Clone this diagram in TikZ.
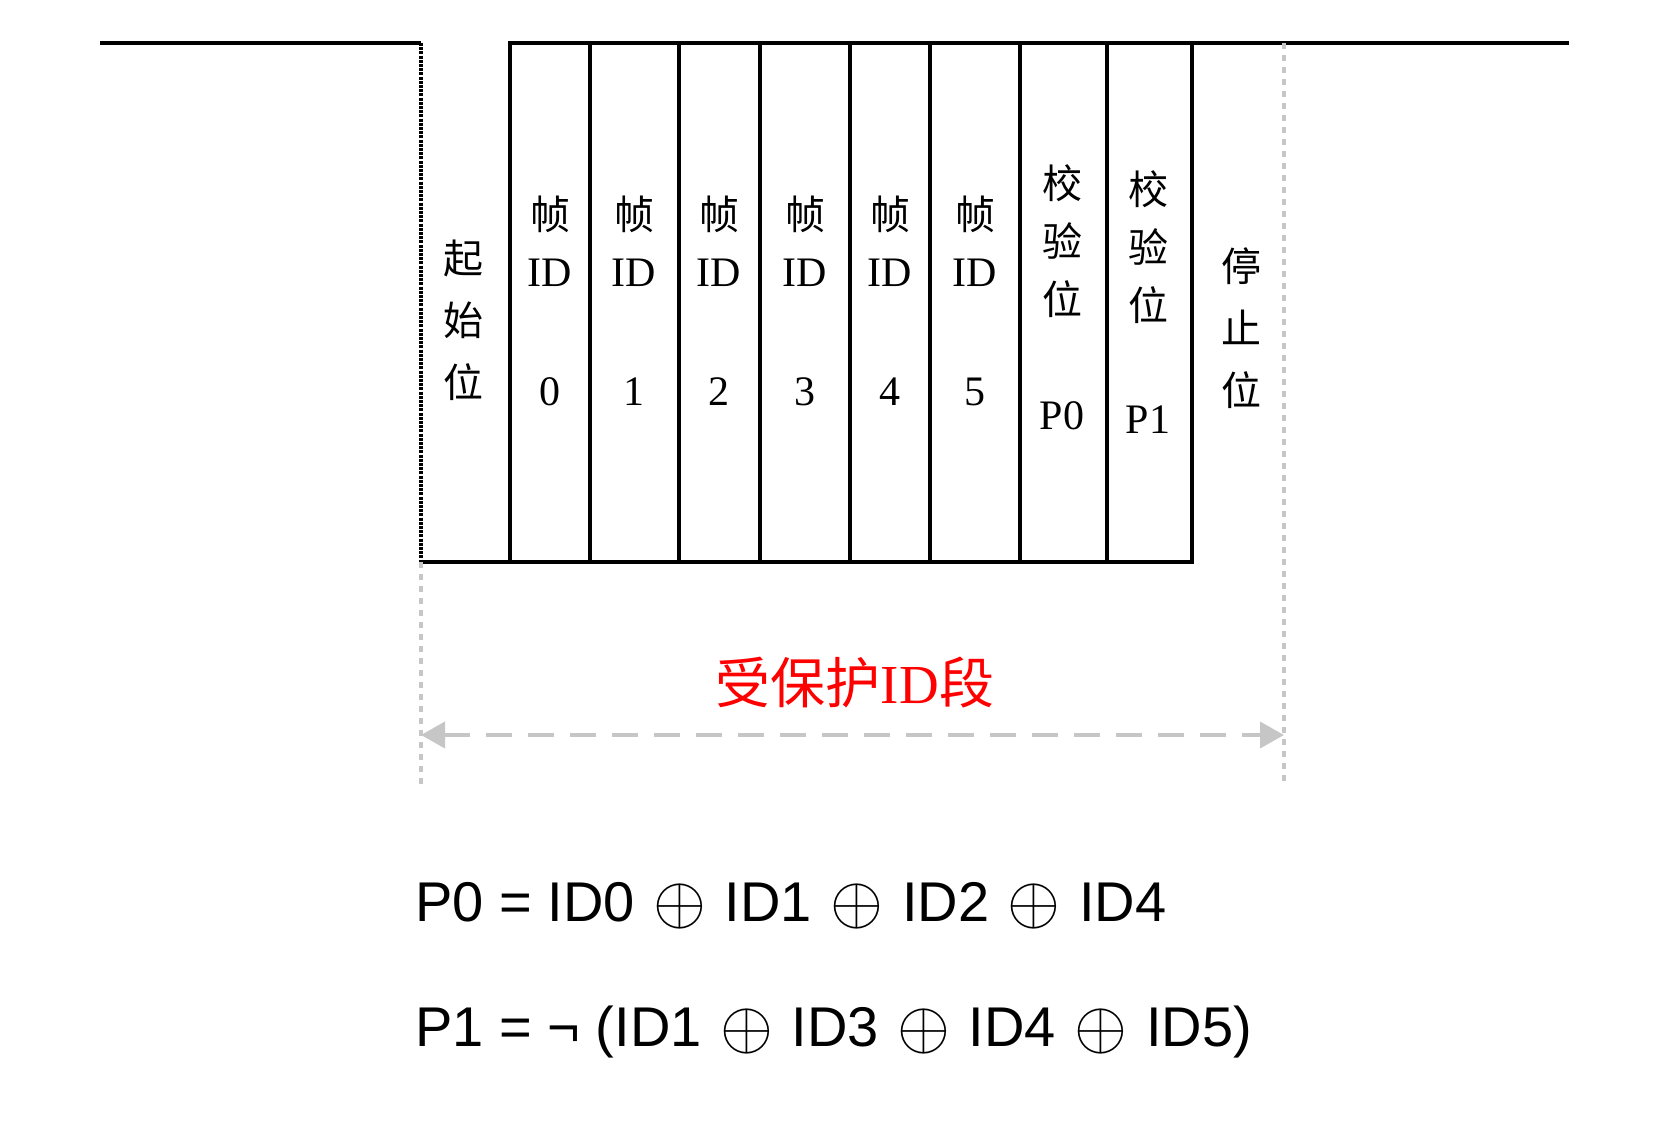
\documentclass[tikz,border=0pt]{standalone}
\usepackage{fontspec}
\setmainfont{Liberation Serif}
\newfontfamily\cjkfont{Noto Sans CJK SC}
\newfontfamily\formulafont{Liberation Sans}
\usetikzlibrary{arrows.meta}

\newcommand\xorop{\hspace{1.5pt}\raisebox{-1pt}{\scalebox{3.4}{\fontsize{10}{12}\selectfont$\oplus$}}\hspace{1.5pt}}

\tikzset{
  wave/.style={line width=2.4pt},
  edgeline/.style={line width=2.4pt, dash pattern=on 1.5pt off 0.6pt},
  guide/.style={gray!45, line width=1.6pt, dash pattern=on 3pt off 3pt},
  spanline/.style={gray!45, line width=2pt, dash pattern=on 13pt off 8pt,
    {Triangle[length=12pt,width=13pt]}-{Triangle[length=12pt,width=13pt]}},
  zh/.style={font=\cjkfont\fontsize{20}{31}\selectfont, align=center, inner sep=0pt},
  idtext/.style={font=\fontsize{21}{24}\selectfont, inner sep=0pt},
  formula/.style={font=\formulafont\fontsize{28}{34}\selectfont, anchor=base west, inner sep=0pt}
}

\begin{document}
\begin{tikzpicture}[x=0.5pt, y=-0.5pt]
\useasboundingbox (0,0) rectangle (1660,1134);

%\draw (0,0) grid (1660,1134);
% signal
\draw[wave] (100,43) -- (421,43);
\draw[edgeline] (421,43) -- (421,562);
\draw[wave] (421,562) -- (1192,562) -- (1192,43);
\draw[wave] (510,562) -- (510,43) -- (1569,43);
\foreach \x in {590,679,760,850,930,1020,1107}
  \draw[wave] (\x,43) -- (\x,562);

% guides
\coordinate (gl) at (421,735);
\coordinate (gr) at (1284,735);
\draw[guide] (421,562) -- (421,786);
\draw[guide] (1284,43) -- (1284,786);
\draw[spanline] (gl) -- (gr);

% cells
\node[zh] (start) at (463,320) {起\\始\\位};
\foreach \x/\n in {550/0,634/1,719/2,805/3,890/4,975/5} {
  \node[zh] (frame\n) at (\x,214) {帧};
  \node[idtext] (id\n) at (\x,273) {ID};
  \node[idtext] (num\n) at (\x,392) {\n};
}
\node[zh, font=\cjkfont\fontsize{20}{29}\selectfont] (chk0) at (1062,241) {校\\验\\位};
\node[idtext] (p0) at (1062,416) {P0};
\node[zh, font=\cjkfont\fontsize{20}{29}\selectfont] (chk1) at (1148,247) {校\\验\\位};
\node[idtext] (p1) at (1148,420) {P1};
\node[zh] (stop) at (1241,328) {停\\止\\位};

\node[red, font=\cjkfont\fontsize{27.5}{32}\selectfont, inner sep=0pt] (span) at (855,683)
  {受保护{\rmfamily ID}段};

% parity
\node[formula] (eq0) at (415,921)
  {P0 = ID0 \xorop{} ID1 \xorop{} ID2 \xorop{} ID4};
\node[formula] (eq1) at (415,1046)
  {P1 = ¬ (ID1 \xorop{} ID3 \xorop{} ID4 \xorop{} ID5)};
\end{tikzpicture}
\end{document}
